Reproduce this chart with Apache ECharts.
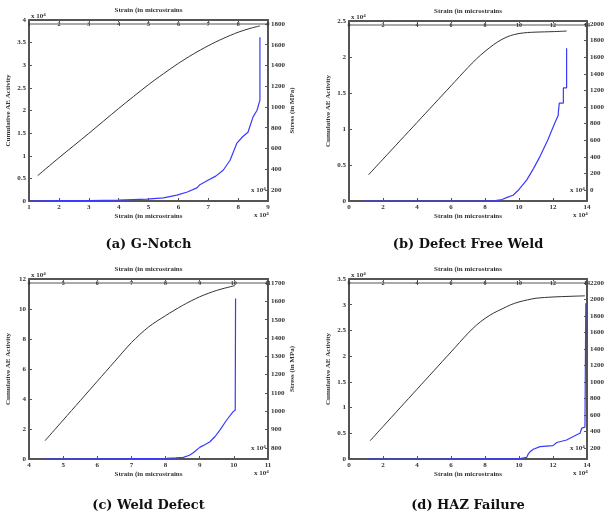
<!DOCTYPE html>
<html><head><meta charset="utf-8">
<script src="https://cdn.jsdelivr.net/npm/echarts@6/dist/echarts.min.js"></script>
<style>html,body{margin:0;padding:0;background:#fff}#c{width:605px;height:512px}</style>
</head><body><div id="c"></div>
<script>
// ---------- DATA ----------
// (a) G-Notch
const strainStressA = [1.29, 2.0, 3.0, 4.0, 5.0, 5.5, 6.0, 6.5, 7.0, 7.5, 8.0, 8.4, 8.73];
const stressA       = [338, 510, 745, 985, 1215, 1320, 1420, 1510, 1590, 1660, 1720, 1757, 1781];
const strainAeA = [1.0, 2.0, 3.0, 4.0, 4.95, 5.5, 5.95, 6.3, 6.62, 6.65, 6.72, 6.99, 7.25, 7.5, 7.73, 7.96, 8.15, 8.33, 8.5, 8.63, 8.73, 8.73];
const aeA       = [0.0, 0.01, 0.01, 0.02, 0.04, 0.07, 0.13, 0.2, 0.29, 0.33, 0.36, 0.46, 0.55, 0.68, 0.9, 1.28, 1.42, 1.52, 1.86, 2.0, 2.23, 3.62];
const stressTicksA = [200, 400, 600, 800, 1000, 1200, 1400, 1600, 1800];

// (b) Defect Free Weld
const strainStressB = [1.14, 2, 3, 4, 5, 6, 7, 7.5, 8, 8.5, 9, 9.5, 10, 10.5, 11, 12, 12.8];
const stressB       = [181, 371, 592, 813, 1034, 1255, 1476, 1580, 1670, 1750, 1815, 1860, 1885, 1897, 1902, 1908, 1915];
const strainAeB = [0.8, 4, 8, 8.6, 9.0, 9.3, 9.65, 10.0, 10.45, 10.85, 11.24, 11.7, 12.1, 12.31, 12.31, 12.37, 12.37, 12.61, 12.61, 12.8, 12.8];
const aeB       = [0, 0, 0, 0.005, 0.02, 0.05, 0.08, 0.16, 0.29, 0.45, 0.62, 0.85, 1.08, 1.19, 1.22, 1.22, 1.36, 1.36, 1.57, 1.57, 2.12];
const stressTicksB = [0, 200, 400, 600, 800, 1000, 1200, 1400, 1600, 1800, 2000];

// (c) Weld Defect
const strainStressC = [4.47, 5, 5.5, 6, 6.5, 7, 7.5, 8, 8.5, 9, 9.5, 10.03];
const stressC       = [840, 952, 1058, 1164, 1270, 1375, 1460, 1522, 1578, 1625, 1660, 1686];
const strainAeC = [4.42, 6, 7, 8.03, 8.3, 8.52, 8.7, 8.81, 9.01, 9.15, 9.3, 9.45, 9.59, 9.79, 9.98, 10.04, 10.05];
const aeC       = [0, 0.01, 0.02, 0.05, 0.07, 0.11, 0.25, 0.42, 0.79, 0.95, 1.15, 1.5, 1.93, 2.6, 3.16, 3.27, 10.7];
const stressTicksC = [800, 900, 1000, 1100, 1200, 1300, 1400, 1500, 1600, 1700];

// (d) HAZ Failure
const strainStressD = [1.24, 2, 3, 4, 5, 6, 7, 7.5, 8, 8.5, 9, 9.5, 10, 10.5, 11, 12, 13, 13.88];
const stressD       = [288, 460, 686, 912, 1138, 1364, 1590, 1690, 1770, 1835, 1885, 1935, 1970, 1995, 2015, 2030, 2038, 2044];
const strainAeD = [1.12, 5, 10.06, 10.45, 10.55, 10.65, 10.84, 11.24, 12.0, 12.02, 12.22, 12.8, 13.4, 13.59, 13.69, 13.88, 13.93, 13.93];
const aeD       = [0, 0, 0.01, 0.03, 0.1, 0.14, 0.19, 0.24, 0.26, 0.27, 0.32, 0.37, 0.47, 0.5, 0.6, 0.62, 0.62, 3.03];
const stressTicksD = [200, 400, 600, 800, 1000, 1200, 1400, 1600, 1800, 2000, 2200];

const captions = ['(a) G-Notch', '(b) Defect Free Weld', '(c) Weld Defect', '(d) HAZ Failure'];
const xLabel = 'Strain (in microstrains';
const yLeftLabel = 'Cumulative AE Activity';
const yRightLabel = 'Stress (in MPa)';

// ---------- LAYOUT ----------
const panels = [
  {left:29, top:20, width:239, height:181, xMin:1, xMax:9, xInt:1, yMax:4, yInt:0.5, rMin:94, rMax:1838,
   strainS:strainStressA, stress:stressA, strainAe:strainAeA, ae:aeA, rTicks:stressTicksA, capY:245},
  {left:349, top:21, width:238, height:180, xMin:0, xMax:14, xInt:2, yMax:2.5, yInt:0.5, rMin:-133, rMax:2036,
   strainS:strainStressB, stress:stressB, strainAe:strainAeB, ae:aeB, rTicks:stressTicksB, capY:245},
  {left:29, top:279, width:239, height:180, xMin:4, xMax:11, xInt:1, yMax:12, yInt:2, rMin:740, rMax:1722,
   strainS:strainStressC, stress:stressC, strainAe:strainAeC, ae:aeC, rTicks:stressTicksC, capY:506},
  {left:349, top:279, width:238, height:180, xMin:0, xMax:14, xInt:2, yMax:3.5, yInt:0.5, rMin:67, rMax:2248,
   strainS:strainStressD, stress:stressD, strainAe:strainAeD, ae:aeD, rTicks:stressTicksD, capY:506}
];

const FONT = 'Liberation Serif';
const small = {fontFamily:FONT, fontWeight:'bold', fontSize:7, color:'#333'};
const axLine = {show:true, onZero:false, lineStyle:{color:'#555', width:2}};
const tick = {show:true, inside:true, length:3, lineStyle:{color:'#555', width:1}};
const zip = (xs, ys) => xs.map((x, i) => [x, ys[i]]);
const plain = v => String(v);

const grid = [], xAxis = [], yAxis = [], series = [], graphic = [];
panels.forEach((p, i) => {
  grid.push({left:p.left, top:p.top, width:p.width, height:p.height, outerBoundsMode:'none', containLabel:false});
  xAxis.push({gridIndex:i, type:'value', position:'bottom', min:p.xMin, max:p.xMax, interval:p.xInt,
    axisLine:axLine, axisTick:tick, splitLine:{show:false},
    axisLabel:Object.assign({}, small, {margin:3, formatter:plain}),
    name:xLabel, nameLocation:'middle', nameGap:12, nameTextStyle:Object.assign({}, small)});
  xAxis.push({gridIndex:i, type:'value', position:'top', min:p.xMin, max:p.xMax, interval:p.xInt,
    axisLine:axLine, axisTick:{show:true, inside:true, length:2, lineStyle:{color:'#555'}}, splitLine:{show:false},
    axisLabel:Object.assign({}, small, {inside:true, margin:1, fontSize:6, formatter:plain}),
    name:xLabel, nameLocation:'middle', nameGap:6, nameTextStyle:Object.assign({}, small)});
  yAxis.push({gridIndex:i, type:'value', position:'left', min:0, max:p.yMax, interval:p.yInt,
    axisLine:axLine, axisTick:tick, splitLine:{show:false},
    axisLabel:Object.assign({}, small, {margin:3, formatter:plain}),
    name:yLeftLabel, nameLocation:'middle', nameGap:17, nameRotate:90, nameTextStyle:Object.assign({}, small)});
  yAxis.push({gridIndex:i, type:'value', position:'right', min:p.rMin, max:p.rMax,
    axisLine:axLine, axisTick:Object.assign({}, tick, {customValues:p.rTicks}), splitLine:{show:false},
    axisLabel:Object.assign({}, small, {margin:3, customValues:p.rTicks, formatter:plain}),
    name:yRightLabel, nameLocation:'middle', nameGap:19, nameRotate:90, nameTextStyle:Object.assign({}, small)});
  series.push({type:'line', xAxisIndex:2*i, yAxisIndex:2*i+1, data:zip(p.strainS, p.stress),
    showSymbol:false, smooth:0.3, lineStyle:{color:'#333', width:1}, silent:true, z:3});
  series.push({type:'line', xAxisIndex:2*i, yAxisIndex:2*i, data:zip(p.strainAe, p.ae),
    showSymbol:false, lineStyle:{color:'#3a3aff', width:1.2}, silent:true, z:4});

  // inner band line under top axis
  graphic.push({type:'line', shape:{x1:p.left, y1:p.top+4, x2:p.left+p.width, y2:p.top+4},
    style:{stroke:'#555', lineWidth:1}, silent:true});
  const rich = {b:{fontFamily:FONT, fontWeight:'bold', fontSize:7, fill:'#333'},
                s:{fontFamily:FONT, fontWeight:'bold', fontSize:5, fill:'#333', verticalAlign:'top', padding:[0,0,4,0]}};
  const expText = '{b|x 10}{s|4}';
  graphic.push({type:'text', left:p.left+2, top:p.top-8, style:{text:expText, rich:rich}, silent:true});
  graphic.push({type:'text', left:p.left+p.width-17, top:p.top+p.height-15, style:{text:expText, rich:rich}, silent:true});
  graphic.push({type:'text', left:p.left+p.width-14, top:p.top+p.height+10, style:{text:expText, rich:rich}, silent:true});
  graphic.push({type:'text', x:p.left + p.width/2, y:p.capY,
    style:{text:captions[i], font:'bold 13px "DejaVu Serif"', fill:'#111', align:'center', verticalAlign:'middle'}, silent:true});
});

const chart = echarts.init(document.getElementById('c'));
chart.setOption({animation:false, backgroundColor:'#fff', grid, xAxis, yAxis, series, graphic});
</script></body></html>
